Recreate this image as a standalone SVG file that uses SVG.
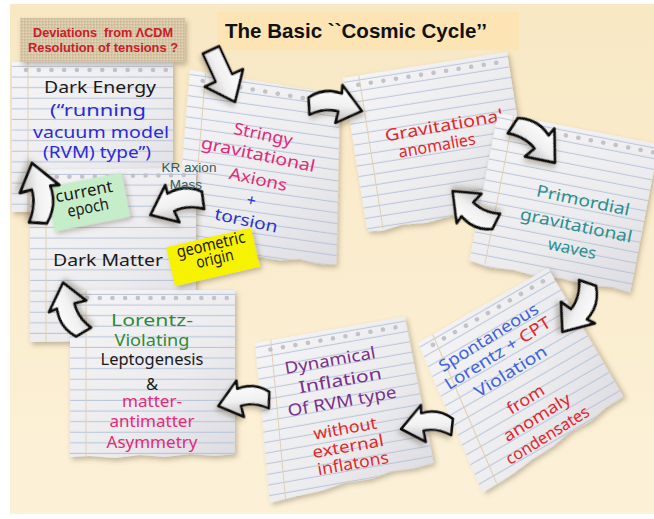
<svg xmlns="http://www.w3.org/2000/svg" width="654" height="519" viewBox="0 0 654 519">
<style>
.paper{fill:url(#paper);filter:url(#sh)}
.rules{fill:url(#rules)}
.holes{fill:none;stroke:#c2c2c8;stroke-width:4.5;stroke-linecap:round;stroke-dasharray:0.1 12.6}
.margin{stroke:#e3cfb2;stroke-width:1;fill:none}
.hand{font-family:'Noto Sans',sans-serif;text-anchor:middle;font-size:16.5px}
.lbl{font-family:'Liberation Sans',Arial,sans-serif;text-anchor:middle;font-size:13.5px;fill:#335c5c}
.arrow{fill:url(#arrowFill);stroke:#111;stroke-width:2.6;stroke-linejoin:round;filter:url(#sh)}
.sticky{filter:url(#sh)}
.dev{font-family:'Liberation Sans',Arial,sans-serif;font-weight:bold;font-size:12.5px;fill:#c8202a;white-space:pre}
</style>
<defs>
<linearGradient id="bg" x1="0" y1="0" x2="0" y2="1">
<stop offset="0" stop-color="#f8e8c4"/><stop offset="1" stop-color="#fcf1d8"/>
</linearGradient>
<linearGradient id="paper" x1="0" y1="0" x2="1" y2="1">
<stop offset="0" stop-color="#f5f5f7"/><stop offset="0.6" stop-color="#ececef"/><stop offset="1" stop-color="#dcdce1"/>
</linearGradient>
<pattern id="rules" patternUnits="userSpaceOnUse" x="0" y="5" width="40" height="10.6">
<line x1="0" y1="10" x2="40" y2="10" stroke="#aebdd2" stroke-width="0.9"/>
</pattern>
<pattern id="burlap" patternUnits="userSpaceOnUse" width="3" height="3">
<rect width="3" height="3" fill="#d6c6a6"/>
<rect width="1.5" height="1.5" fill="#c9b894"/>
<rect x="1.5" y="1.5" width="1.5" height="1.5" fill="#e2d4b8"/>
</pattern>
<linearGradient id="arrowFill" x1="0" y1="0" x2="0" y2="1">
<stop offset="0" stop-color="#ffffff"/><stop offset="0.55" stop-color="#f1f1f1"/><stop offset="1" stop-color="#bcbcbc"/>
</linearGradient>
<filter id="sh" x="-20%" y="-20%" width="140%" height="140%">
<feDropShadow dx="2" dy="3" stdDeviation="2.5" flood-color="#5a4a30" flood-opacity="0.35"/>
</filter>
<path id="arrC" d="M0,-8 Q14,-19 31,-14 L31,-22 L51,1 L27,14 L29,3 Q16,0 2,8 Z"/>
<path id="arrS" d="M0,-9 L28,-9 L28,-21 L52,0 L28,21 L28,9 L0,9 Z"/>
</defs>

<rect x="10" y="4" width="644" height="510" fill="url(#bg)"/>

<g id="node-stringy-axions">
<g transform="translate(190,70) rotate(8)">
<path class="paper" d="M0,0 L152,4 L172,172 L155,174 L135,172 L115,176 L92,175 L68,178 L42,177 L10,180 Z"/>
<path class="rules" d="M0,0 L152,4 L172,172 L155,174 L135,172 L115,176 L92,175 L68,178 L42,177 L10,180 Z"/>
<line class="margin" x1="16" y1="1" x2="26" y2="179"/>
<line class="holes" x1="14" y1="9" x2="148" y2="13"/>
</g>
<text class="hand" fill="#e42a78" transform="translate(262,140) rotate(12)" textLength="60" lengthAdjust="spacingAndGlyphs">Stringy</text>
<text class="hand" fill="#e42a78" transform="translate(257,160) rotate(12)" textLength="116" lengthAdjust="spacingAndGlyphs">gravitational</text>
<text class="hand" fill="#e42a78" transform="translate(257,185) rotate(12)" textLength="59" lengthAdjust="spacingAndGlyphs">Axions</text>
<text class="hand" font-size="15" fill="#2a35c8" transform="translate(250,206) rotate(12)">+</text>
<text class="hand" fill="#2a35c8" transform="translate(245,226) rotate(12)" textLength="64" lengthAdjust="spacingAndGlyphs">torsion</text>
</g>

<g id="node-gravitational-anomalies">
<g transform="translate(343,78) rotate(-9)">
<path class="paper" d="M0,0 H166 V150 L150,153 L130,151 L110,155 L85,153 L60,156 L35,154 L15,157 L0,155 Z"/>
<path class="rules" d="M0,0 H166 V150 L150,153 L130,151 L110,155 L85,153 L60,156 L35,154 L15,157 L0,155 Z"/>
<line class="margin" x1="16" y1="0" x2="16" y2="155"/>
<line class="holes" x1="14" y1="9" x2="160" y2="9"/>
</g>
<text class="hand" fill="#e5262a" transform="translate(445,131) rotate(-10)" textLength="120" lengthAdjust="spacingAndGlyphs">Gravitational</text>
<text class="hand" fill="#e5262a" transform="translate(438,151) rotate(-10)" textLength="78" lengthAdjust="spacingAndGlyphs">anomalies</text>
</g>

<g id="node-primordial-gw">
<g transform="translate(498,113) rotate(11)">
<path class="paper" d="M0,0 H164 V151 L145,149 L120,152 L95,150 L70,153 L45,151 L20,153 L0,150 Z"/>
<path class="rules" d="M0,0 H164 V151 L145,149 L120,152 L95,150 L70,153 L45,151 L20,153 L0,150 Z"/>
<line class="margin" x1="16" y1="0" x2="16" y2="151"/>
<line class="holes" x1="20" y1="9" x2="160" y2="9"/>
</g>
<text class="hand" fill="#2f8f8f" transform="translate(582,206) rotate(12)" textLength="95" lengthAdjust="spacingAndGlyphs">Primordial</text>
<text class="hand" fill="#2f8f8f" transform="translate(575,231) rotate(12)" textLength="114" lengthAdjust="spacingAndGlyphs">gravitational</text>
<text class="hand" fill="#2f8f8f" transform="translate(571,254) rotate(12)" textLength="49" lengthAdjust="spacingAndGlyphs">waves</text>
</g>

<g id="node-dark-energy">
<g transform="translate(12,62)">
<rect class="paper" width="161" height="150"/>
<rect class="rules" width="161" height="150"/>
<line class="margin" x1="16" y1="0" x2="16" y2="150"/>
<line class="holes" x1="14" y1="8" x2="158" y2="8"/>
</g>
<text class="hand" fill="#1a1a1a" x="100" y="93" textLength="112" lengthAdjust="spacingAndGlyphs">Dark Energy</text>
<text class="hand" fill="#2b2bd9" x="98" y="116" textLength="96" lengthAdjust="spacingAndGlyphs">(“running</text>
<text class="hand" fill="#2b2bd9" x="101" y="138" textLength="136" lengthAdjust="spacingAndGlyphs">vacuum model</text>
<text class="hand" fill="#2b2bd9" x="97" y="158" textLength="108" lengthAdjust="spacingAndGlyphs">(RVM) type”)</text>
</g>

<g id="node-dark-matter">
<g transform="translate(30,170)">
<path class="paper" d="M0,0 L166,-2 L166,170 L0,172 Z"/>
<path class="rules" d="M0,0 L166,-2 L166,170 L0,172 Z"/>
<line class="margin" x1="16" y1="0" x2="16" y2="172"/>
<line class="holes" x1="14" y1="7" x2="160" y2="5"/>
</g>
<text class="hand" fill="#1a1a1a" x="108" y="266" textLength="110" lengthAdjust="spacingAndGlyphs">Dark Matter</text>
</g>

<g id="node-spontaneous-violation">
<g transform="translate(418,343) rotate(-30)">
<path class="paper" d="M0,0 L150,0 L151,149 L130,150 L110,154 L88,153 L65,157 L40,158 L15,161 L-19,162 Z"/>
<path class="rules" d="M0,0 L150,0 L151,149 L130,150 L110,154 L88,153 L65,157 L40,158 L15,161 L-19,162 Z"/>
<line class="margin" x1="17" y1="0" x2="-2" y2="161"/>
<line class="holes" x1="12" y1="9" x2="142" y2="9"/>
</g>
<text class="hand" fill="#3f63e0" transform="translate(491.6,342.2) rotate(-32)" textLength="114" lengthAdjust="spacingAndGlyphs">Spontaneous</text>
<text class="hand" fill="#3f63e0" transform="translate(500.6,358) rotate(-32)" textLength="122" lengthAdjust="spacingAndGlyphs">Lorentz + <tspan fill="#e5262a">CPT</tspan></text>
<text class="hand" fill="#3f63e0" transform="translate(513.6,376.2) rotate(-32)" textLength="82" lengthAdjust="spacingAndGlyphs">Violation</text>
<text class="hand" fill="#e5262a" transform="translate(528.7,404.2) rotate(-32)" textLength="41" lengthAdjust="spacingAndGlyphs">from</text>
<text class="hand" fill="#e5262a" transform="translate(539.8,422) rotate(-32)" textLength="76" lengthAdjust="spacingAndGlyphs">anomaly</text>
<text class="hand" fill="#e5262a" transform="translate(550.4,440) rotate(-32)" textLength="95" lengthAdjust="spacingAndGlyphs">condensates</text>
</g>

<g id="node-dynamical-inflation">
<g transform="translate(255,343) rotate(-10)">
<path class="paper" d="M0,0 L152,0 L155,149 L135,151 L112,150 L90,154 L65,153 L40,157 L15,158 L-13,160 Z"/>
<path class="rules" d="M0,0 L152,0 L155,149 L135,151 L112,150 L90,154 L65,153 L40,157 L15,158 L-13,160 Z"/>
<line class="margin" x1="16" y1="0" x2="3" y2="159"/>
<line class="holes" x1="14" y1="9" x2="145" y2="9"/>
</g>
<text class="hand" fill="#7a2f8c" transform="translate(331,366) rotate(-10)" textLength="92" lengthAdjust="spacingAndGlyphs">Dynamical</text>
<text class="hand" fill="#7a2f8c" transform="translate(341,386) rotate(-10)" textLength="84" lengthAdjust="spacingAndGlyphs">Inflation</text>
<text class="hand" fill="#7a2f8c" transform="translate(343,407) rotate(-10)" textLength="110" lengthAdjust="spacingAndGlyphs">Of RVM type</text>
<text class="hand" font-size="15.5" fill="#e5262a" transform="translate(346,434) rotate(-10)" textLength="64" lengthAdjust="spacingAndGlyphs">without</text>
<text class="hand" font-size="15.5" fill="#e5262a" transform="translate(349,452) rotate(-10)" textLength="72" lengthAdjust="spacingAndGlyphs">external</text>
<text class="hand" font-size="15.5" fill="#e5262a" transform="translate(354,469) rotate(-10)" textLength="72" lengthAdjust="spacingAndGlyphs">inflatons</text>
</g>

<g id="node-leptogenesis">
<g transform="translate(70,290)">
<path class="paper" d="M0,0 H165 V164 L145,166 L120,164 L95,167 L70,165 L45,168 L20,166 L0,167 Z"/>
<path class="rules" d="M0,0 H165 V164 L145,166 L120,164 L95,167 L70,165 L45,168 L20,166 L0,167 Z"/>
<line class="margin" x1="16" y1="0" x2="16" y2="167"/>
<line class="holes" x1="17" y1="8" x2="160" y2="8"/>
</g>
<text class="hand" font-size="15.5" fill="#2f8a36" x="152" y="326" textLength="82" lengthAdjust="spacingAndGlyphs">Lorentz-</text>
<text class="hand" font-size="15.5" fill="#2f8a36" x="152" y="346" textLength="75" lengthAdjust="spacingAndGlyphs">Violating</text>
<text class="hand" font-size="15.5" fill="#1a1a1a" x="152" y="365" textLength="103" lengthAdjust="spacingAndGlyphs">Leptogenesis</text>
<text class="hand" font-size="15.5" fill="#1a1a1a" x="152" y="390">&amp;</text>
<text class="hand" font-size="15.5" fill="#e42a78" x="152" y="407" textLength="60" lengthAdjust="spacingAndGlyphs">matter-</text>
<text class="hand" font-size="15.5" fill="#e42a78" x="152" y="427" textLength="85" lengthAdjust="spacingAndGlyphs">antimatter</text>
<text class="hand" font-size="15.5" fill="#e42a78" x="152" y="448" textLength="91" lengthAdjust="spacingAndGlyphs">Asymmetry</text>
</g>

<g id="sticky-current-epoch">
<rect class="sticky" x="-38.5" y="-22.5" width="77" height="45" fill="#c6edc9" transform="translate(88,202) rotate(-11)"/>
<text class="hand" font-size="14" fill="#1a1a1a" transform="translate(85,197) rotate(-11)" textLength="58" lengthAdjust="spacingAndGlyphs">current</text>
<text class="hand" font-size="14" fill="#1a1a1a" transform="translate(89,213) rotate(-11)" textLength="42" lengthAdjust="spacingAndGlyphs">epoch</text>
</g>

<g id="sticky-geometric-origin">
<rect class="sticky" x="-43.5" y="-20" width="87" height="40" fill="#f6f200" transform="translate(213,257) rotate(-13)"/>
<text class="hand" font-size="13.5" fill="#1a1a1a" transform="translate(212,250) rotate(-13)" textLength="70" lengthAdjust="spacingAndGlyphs">geometric</text>
<text class="hand" font-size="13.5" fill="#1a1a1a" transform="translate(216,264) rotate(-13)" textLength="38" lengthAdjust="spacingAndGlyphs">origin</text>
</g>

<g id="box-deviations">
<rect x="20" y="18" width="165" height="44" fill="url(#burlap)" filter="url(#sh)"/>
<text class="dev" x="103" y="37" text-anchor="middle" textLength="140" lengthAdjust="spacingAndGlyphs">Deviations  from ΛCDM</text>
<text class="dev" x="103" y="52" text-anchor="middle" textLength="150" lengthAdjust="spacingAndGlyphs">Resolution of tensions ?</text>
</g>

<g id="title">
<rect x="217" y="12" width="302" height="38" fill="#fde4b5"/>
<text x="225" y="38" font-family="'Liberation Sans',Arial,sans-serif" font-weight="bold" font-size="21" fill="#111" textLength="262" lengthAdjust="spacingAndGlyphs">The Basic ``Cosmic Cycle’’</text>
</g>

<g id="connectors">
<use href="#arrS" class="arrow" transform="translate(211,50) rotate(65.2) scale(1.1,1)"/>
<use href="#arrC" class="arrow" transform="translate(308,106) rotate(4.2) scale(1.06)"/>
<use href="#arrC" class="arrow" transform="translate(512,125) rotate(40.2) scale(1.12)"/>
<use href="#arrC" class="arrow" transform="translate(497,222) rotate(213.7) scale(1.06)"/>
<use href="#arrC" class="arrow" transform="translate(588,282) rotate(116.1) scale(1.1)"/>
<use href="#arrC" class="arrow" transform="translate(453,427) rotate(178.9) scale(1.02,-1.02)"/>
<use href="#arrC" class="arrow" transform="translate(270,400) rotate(174.5) scale(1.02,-1.02)"/>
<use href="#arrC" class="arrow" transform="translate(84,333) rotate(246.3) scale(1.07)"/>
<use href="#arrC" class="arrow" transform="translate(38,224) rotate(265.3) scale(1.2,-1.1)"/>
<use href="#arrC" class="arrow" transform="translate(204,200) rotate(165.5) scale(1.09,-1.09)"/>
<text class="lbl" x="189" y="172">KR axion</text>
<text class="lbl" x="186" y="189">Mass</text>
</g>
</svg>
